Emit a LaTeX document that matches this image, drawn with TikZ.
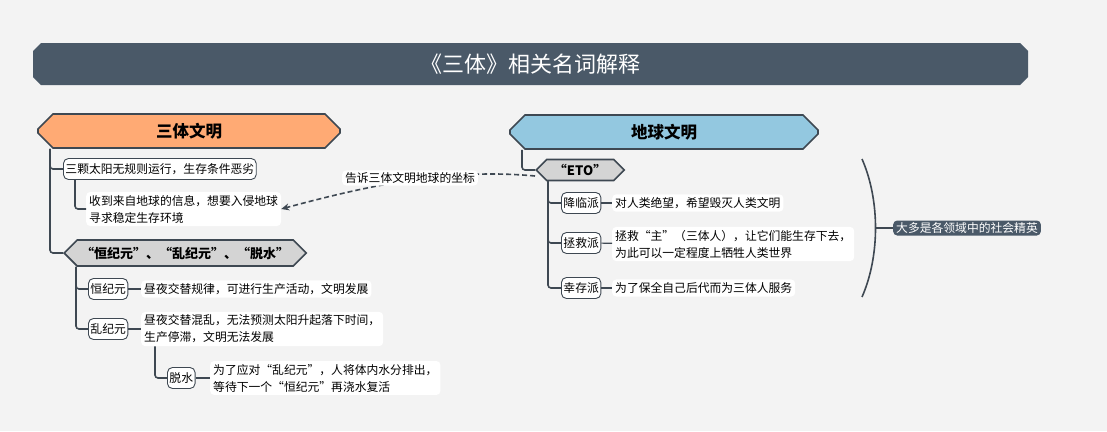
\documentclass[tikz,border=0pt]{standalone}
\usepackage{fontspec}
\setmainfont{Noto Sans CJK SC}
\usetikzlibrary{arrows.meta,shapes.misc,shapes.symbols}
\definecolor{bgcol}{HTML}{F3F3F3}
\definecolor{titlecol}{HTML}{4A5968}
\definecolor{linecol}{HTML}{3E4852}
\definecolor{orangecol}{HTML}{FFAA74}
\definecolor{bluecol}{HTML}{93C8E0}
\definecolor{hexcol}{HTML}{D4D4D4}

\begin{document}
\begin{tikzpicture}[x=1pt,y=-1pt]

\tikzset{
  titlebar/.style={chamfered rectangle, chamfered rectangle xsep=4pt, chamfered rectangle ysep=4pt,
    fill=titlecol, text=white, font=\fontsize{22}{26}\selectfont,
    minimum width=995pt, minimum height=42pt, inner sep=0pt},
  civ/.style={chamfered rectangle, chamfered rectangle xsep=6pt, chamfered rectangle ysep=9pt,
    draw=linecol, line width=1.6pt, font=\bfseries\fontsize{16.5}{20}\selectfont,
    minimum height=30pt, inner sep=0pt},
  group/.style={signal, signal to=west and east, signal pointer angle=90, draw=linecol,
    line width=1.6pt, fill=hexcol, font=\bfseries\fontsize{13}{16}\selectfont, inner sep=0pt},
  tag/.style={draw=linecol, line width=0.9pt, rounded corners=5pt, fill=white, anchor=west,
    inner xsep=2pt, inner ysep=0pt, minimum height=21pt, font=\fontsize{11.8}{17}\selectfont},
  note/.style={fill=white, rounded corners=4pt, anchor=west, align=left,
    inner xsep=3pt, inner ysep=3pt, font=\fontsize{11.8}{17}\selectfont},
  branch/.style={draw=linecol, line width=1.6pt, rounded corners=3pt},
  leaf/.style={draw=linecol, line width=1.2pt},
}

\fill[bgcol] (0,0) rectangle (1107,431);
\useasboundingbox (0,0) rectangle (1107,431);

\node[titlebar] (title) at (530.5,64) {《三体》相关名词解释};

% left side
\node[civ, fill=orangecol, minimum width=302pt] (santi) at (189,131) {三体文明};
\node[tag] (sun) at (63,169) {三颗太阳无规则运行，生存条件恶劣};
\node[note] (invade) at (86,209) {收到来自地球的信息，想要入侵地球\\寻求稳定生存环境};
\node[group, anchor=west, minimum width=242pt, minimum height=26pt] (eras) at (63,253)
  {“恒纪元”、“乱纪元”、“脱水”};
\node[tag] (heng) at (88,289) {恒纪元};
\node[note] (hengtxt) at (141,289) {昼夜交替规律，可进行生产活动，文明发展};
\node[tag] (luan) at (88,329) {乱纪元};
\node[note] (luantxt) at (141,329) {昼夜交替混乱，无法预测太阳升起落下时间，\\生产停滞，文明无法发展};
\node[tag] (tuoshui) at (167,378) {脱水};
\node[note] (tuotxt) at (210,378) {为了应对“乱纪元”，人将体内水分排出，\\等待下一个“恒纪元”再浇水复活};

\draw[branch] ([xshift=-13pt]sun.west |- santi.south) |- (sun.west);
\draw[branch] ([xshift=-13pt]sun.west |- santi.south) |- (eras.west);
\draw[branch] ([xshift=-11pt]invade.west |- sun.south) |- (invade.west);
\draw[branch] ([xshift=-12pt]heng.west |- eras.south) |- (heng.west);
\draw[branch] ([xshift=-12pt]heng.west |- eras.south) |- (luan.west);
\draw[branch] ([xshift=-12pt]tuoshui.west |- luantxt.south) |- (tuoshui.west);
\draw[leaf] (heng) -- (hengtxt);
\draw[leaf] (luan) -- (luantxt);
\draw[leaf] (tuoshui) -- (tuotxt);

% right side
\node[civ, fill=bluecol, minimum width=308pt] (diqiu) at (664,132) {地球文明};
\node[group, anchor=west, minimum width=88pt, minimum height=21pt] (eto) at (535,170) {“ETO”};
\node[tag] (jianglin) at (561,203) {降临派};
\node[note] (jltxt) at (612,203) {对人类绝望，希望毁灭人类文明};
\node[tag] (zhengjiu) at (561,243) {拯救派};
\node[note] (zjtxt) at (612,244) {拯救“主”（三体人），让它们能生存下去，\\为此可以一定程度上牺牲人类世界};
\node[tag] (xingcun) at (561,288) {幸存派};
\node[note] (xctxt) at (612,288) {为了保全自己后代而为三体人服务};

\draw[branch] ([xshift=-13pt]eto.west |- diqiu.south) |- (eto.west);
\draw[branch] ([xshift=-13pt]jianglin.west |- eto.south) |- (jianglin.west);
\draw[branch] ([xshift=-13pt]jianglin.west |- eto.south) |- (zhengjiu.west);
\draw[branch] ([xshift=-13pt]jianglin.west |- eto.south) |- (xingcun.west);
\draw[leaf] (jianglin) -- (jltxt);
\draw[leaf] (zhengjiu) -- (zjtxt);
\draw[leaf] (xingcun) -- (xctxt);

% summary
\coordinate (bracetop) at (862,159);
\coordinate (bracebot) at (862,297);
\coordinate (bracemid) at (875.5,228);
\node[note, fill=titlecol, text=white, inner ysep=2pt] (elite) at (893,228) {大多是各领域中的社会精英};
\draw[linecol, line width=1.6pt] (bracetop) .. controls (880,200) and (880,256) .. (bracebot);
\draw[linecol, line width=1.6pt] (bracemid) -- (elite.west);

% relation
\draw[linecol, line width=1.6pt, dash pattern=on 5pt off 3pt, -{Stealth[length=8pt,width=7pt]}]
  ([yshift=-6pt]eto.west) .. controls (450,168) and (370,185) .. (invade.east);
\node[note, anchor=center, inner ysep=2pt] (tell) at (410,178) {告诉三体文明地球的坐标};

\end{tikzpicture}
\end{document}
